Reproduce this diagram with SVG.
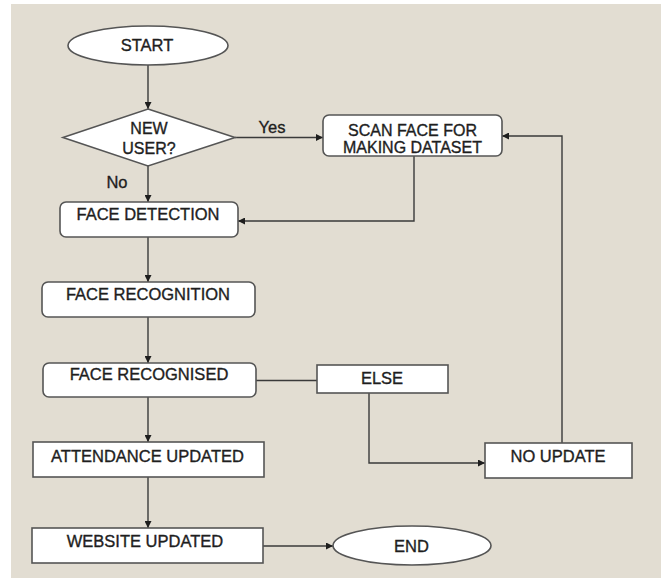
<svg xmlns="http://www.w3.org/2000/svg" width="661" height="578" viewBox="0 0 661 578">
<style>
.box{fill:#ffffff;stroke:#555555;stroke-width:1.6}
.ln{fill:none;stroke:#3a3a3a;stroke-width:1.4}
text{font-family:"Liberation Sans",Arial,sans-serif;font-size:16.5px;fill:#1e1e1e;stroke:#1e1e1e;stroke-width:0.35;text-anchor:middle}
.two{font-size:16px}
</style>
<defs>
<marker id="ah" viewBox="0 0 10 10" refX="10" refY="5" markerWidth="8" markerHeight="7" markerUnits="userSpaceOnUse" orient="auto">
<path d="M0,0 L10,5 L0,10 z" fill="#1e1e1e"/>
</marker>
</defs>
<rect x="0" y="0" width="661" height="578" fill="#ffffff"/>
<rect x="11" y="4" width="650" height="574" fill="#e2ddd2"/>
<g id="connectors">
<line class="ln" x1="148" y1="65" x2="148" y2="109" marker-end="url(#ah)"/>
<line class="ln" x1="235" y1="137.5" x2="323" y2="137.5" marker-end="url(#ah)"/>
<line class="ln" x1="148" y1="166" x2="148" y2="202" marker-end="url(#ah)"/>
<polyline class="ln" points="414,156 414,221 238,221" marker-end="url(#ah)"/>
<line class="ln" x1="148" y1="237" x2="148" y2="282" marker-end="url(#ah)"/>
<line class="ln" x1="148" y1="317" x2="148" y2="363" marker-end="url(#ah)"/>
<line class="ln" x1="256" y1="380.5" x2="317" y2="380.5"/>
<polyline class="ln" points="369,393 369,463 485,463" marker-end="url(#ah)"/>
<polyline class="ln" points="562,443 562,136 502,136" marker-end="url(#ah)"/>
<line class="ln" x1="148" y1="397" x2="148" y2="442" marker-end="url(#ah)"/>
<line class="ln" x1="148" y1="477" x2="148" y2="528" marker-end="url(#ah)"/>
<line class="ln" x1="263" y1="546" x2="333" y2="546" marker-end="url(#ah)"/>
<text x="272" y="133">Yes</text>
<text x="117" y="188">No</text>
</g>
<g id="start">
<ellipse class="box" cx="148" cy="45.5" rx="80" ry="19.5"/>
<text x="147" y="51">START</text>
</g>
<g id="new-user">
<polygon class="box" points="148,109 235,137.5 148,166 63,137.5"/>
<text class="two" x="149" y="134">NEW</text>
<text class="two" x="149" y="154">USER?</text>
</g>
<g id="scan-face">
<rect class="box" x="323" y="115" width="179" height="41" rx="6"/>
<text class="two" x="412.5" y="135.5">SCAN FACE FOR</text>
<text class="two" x="412.5" y="153">MAKING DATASET</text>
</g>
<g id="face-detection">
<rect class="box" x="60" y="202" width="178" height="35" rx="6"/>
<text x="148" y="220">FACE DETECTION</text>
</g>
<g id="face-recognition">
<rect class="box" x="42" y="282" width="213" height="35" rx="6"/>
<text x="148" y="300">FACE RECOGNITION</text>
</g>
<g id="face-recognised">
<rect class="box" x="43" y="363" width="213" height="34" rx="6"/>
<text x="149" y="380">FACE RECOGNISED</text>
</g>
<g id="else">
<rect class="box" x="317" y="365" width="131" height="28"/>
<text x="382" y="384">ELSE</text>
</g>
<g id="no-update">
<rect class="box" x="485" y="443" width="147" height="35"/>
<text x="558" y="461.5">NO UPDATE</text>
</g>
<g id="attendance-updated">
<rect class="box" x="33" y="442" width="231" height="35"/>
<text x="147.5" y="461.5">ATTENDANCE UPDATED</text>
</g>
<g id="website-updated">
<rect class="box" x="32" y="528" width="231" height="35"/>
<text x="145" y="547">WEBSITE UPDATED</text>
</g>
<g id="end">
<ellipse class="box" cx="412" cy="545.5" rx="79" ry="19.5"/>
<text x="411.5" y="551.5">END</text>
</g>
</svg>
